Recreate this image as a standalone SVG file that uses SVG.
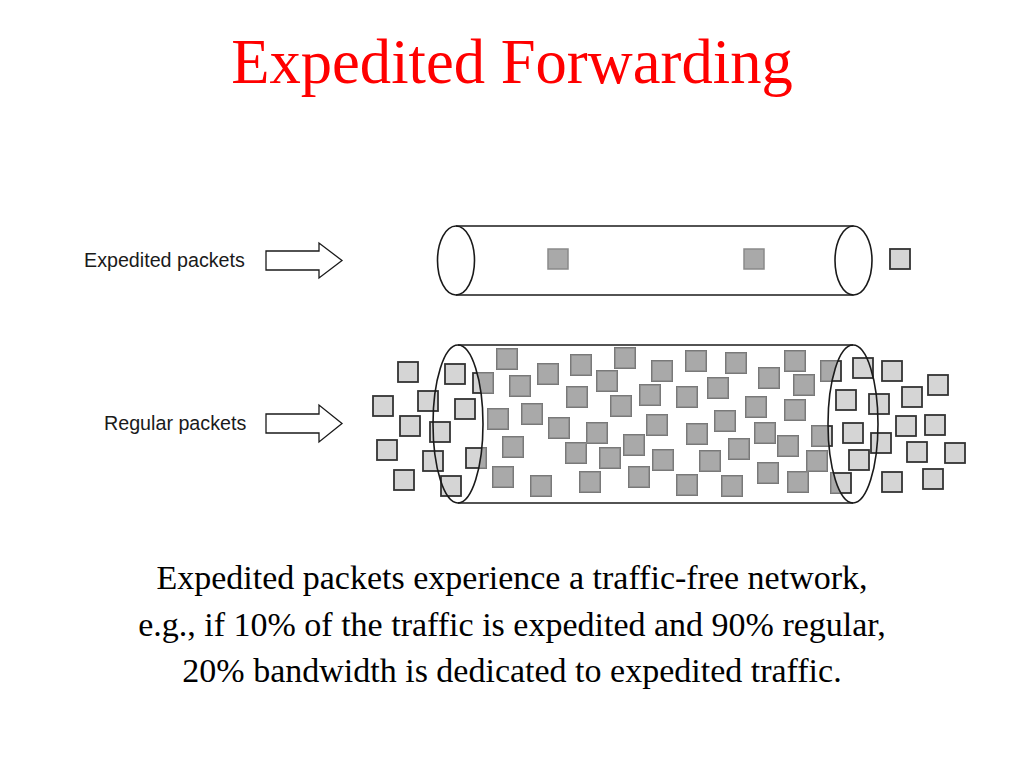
<svg xmlns="http://www.w3.org/2000/svg" xmlns:xlink="http://www.w3.org/1999/xlink" width="1024" height="768" viewBox="0 0 1024 768">
<style>
.title{font-family:"Liberation Serif","Times New Roman",serif;font-size:62.6px;fill:#ff0000;text-anchor:middle}
.body{font-family:"Liberation Serif","Times New Roman",serif;font-size:34px;fill:#000;text-anchor:middle}
.lbl{font-family:"Liberation Sans",Arial,sans-serif;font-size:19.7px;fill:#1a1a1a}
.tube{fill:none;stroke:#1a1a1a;stroke-width:1.6}
.arrow{fill:#fff;stroke:#1a1a1a;stroke-width:1.3}
.light{fill:#d5d5d5;stroke:#333;stroke-width:1.8}
.dark{fill:#a9a9a9;stroke:#8a8a8a;stroke-width:1.5}
</style>
<defs>
<clipPath id="body"><path d="M458,345 A25,79 0 0 1 458,503 L853,503 A25,79 0 0 1 853,345 Z"/></clipPath>
<g id="pk">
<rect x="398" y="362" width="20" height="20"/><rect x="445" y="364" width="20" height="20"/><rect x="418" y="391" width="20" height="20"/><rect x="373" y="396" width="20" height="20"/><rect x="455" y="399" width="20" height="20"/><rect x="400" y="416" width="20" height="20"/><rect x="430" y="422" width="20" height="20"/><rect x="377" y="440" width="20" height="20"/><rect x="423" y="451" width="20" height="20"/><rect x="466" y="448" width="20" height="20"/><rect x="394" y="470" width="20" height="20"/><rect x="441" y="476" width="20" height="20"/><rect x="473" y="373" width="20" height="20"/>
<rect x="497" y="349" width="20" height="20"/><rect x="538" y="364" width="20" height="20"/><rect x="510" y="376" width="20" height="20"/><rect x="571" y="355" width="20" height="20"/><rect x="567" y="387" width="20" height="20"/><rect x="488" y="409" width="20" height="20"/><rect x="522" y="404" width="20" height="20"/><rect x="549" y="418" width="20" height="20"/><rect x="503" y="437" width="20" height="20"/><rect x="566" y="443" width="20" height="20"/><rect x="493" y="467" width="20" height="20"/><rect x="531" y="476" width="20" height="20"/>
<rect x="615" y="348" width="20" height="20"/><rect x="597" y="371" width="20" height="20"/><rect x="652" y="361" width="20" height="20"/><rect x="686" y="351" width="20" height="20"/><rect x="726" y="353" width="20" height="20"/><rect x="785" y="351" width="20" height="20"/><rect x="611" y="396" width="20" height="20"/><rect x="640" y="385" width="20" height="20"/><rect x="677" y="387" width="20" height="20"/><rect x="708" y="378" width="20" height="20"/><rect x="759" y="368" width="20" height="20"/><rect x="746" y="397" width="20" height="20"/><rect x="785" y="400" width="20" height="20"/>
<rect x="587" y="423" width="20" height="20"/><rect x="647" y="415" width="20" height="20"/><rect x="687" y="424" width="20" height="20"/><rect x="715" y="411" width="20" height="20"/><rect x="755" y="423" width="20" height="20"/><rect x="600" y="448" width="20" height="20"/><rect x="624" y="435" width="20" height="20"/><rect x="653" y="450" width="20" height="20"/><rect x="700" y="451" width="20" height="20"/><rect x="729" y="439" width="20" height="20"/><rect x="778" y="436" width="20" height="20"/>
<rect x="580" y="472" width="20" height="20"/><rect x="629" y="467" width="20" height="20"/><rect x="677" y="475" width="20" height="20"/><rect x="722" y="476" width="20" height="20"/><rect x="758" y="463" width="20" height="20"/><rect x="788" y="472" width="20" height="20"/><rect x="794" y="375" width="20" height="20"/><rect x="812" y="426" width="20" height="20"/><rect x="807" y="451" width="20" height="20"/><rect x="821" y="361" width="20" height="20"/>
<rect x="831" y="473" width="20" height="20"/><rect x="853" y="358" width="20" height="20"/><rect x="882" y="361" width="20" height="20"/><rect x="928" y="375" width="20" height="20"/><rect x="836" y="390" width="20" height="20"/><rect x="869" y="394" width="20" height="20"/><rect x="902" y="387" width="20" height="20"/><rect x="896" y="416" width="20" height="20"/><rect x="925" y="415" width="20" height="20"/><rect x="843" y="423" width="20" height="20"/><rect x="871" y="433" width="20" height="20"/><rect x="907" y="442" width="20" height="20"/><rect x="945" y="443" width="20" height="20"/><rect x="849" y="450" width="20" height="20"/><rect x="882" y="472" width="20" height="20"/><rect x="923" y="469" width="20" height="20"/>
</g>
</defs>
<rect width="1024" height="768" fill="#fff"/>
<text class="title" x="512" y="83">Expedited Forwarding</text>

<g id="expedited-label">
<text class="lbl" x="84" y="267">Expedited packets</text>
<path class="arrow" d="M266,251 H319 V243 L342,260.5 L319,278 V270 H266 Z"/>
</g>
<g id="expedited-tube">
<rect class="dark" x="548" y="249" width="20" height="20"/>
<rect class="dark" x="744" y="249" width="20" height="20"/>
<rect class="light" x="890" y="249" width="20" height="20"/>
<line class="tube" x1="456" y1="226" x2="853.5" y2="226"/>
<line class="tube" x1="456" y1="295" x2="853.5" y2="295"/>
<ellipse class="tube" cx="456" cy="260.5" rx="18.5" ry="34.5"/>
<ellipse class="tube" cx="853.5" cy="260.5" rx="18.5" ry="34.5"/>
</g>

<g id="regular-label">
<text class="lbl" x="104" y="430">Regular packets</text>
<path class="arrow" d="M266,414 H319 V405 L342,423.5 L319,442 V433 H266 Z"/>
</g>
<g id="regular-tube">
<use xlink:href="#pk" class="light"/>
<use xlink:href="#pk" class="dark" clip-path="url(#body)"/>
<line class="tube" x1="458" y1="345" x2="853" y2="345"/>
<line class="tube" x1="458" y1="503" x2="853" y2="503"/>
<ellipse class="tube" cx="458" cy="424" rx="25" ry="79"/>
<ellipse class="tube" cx="853" cy="424" rx="25" ry="79"/>
</g>

<g id="caption">
<text class="body" x="512" y="589">Expedited packets experience a traffic-free network,</text>
<text class="body" x="512" y="636">e.g., if 10% of the traffic is expedited and 90% regular,</text>
<text class="body" x="512" y="682">20% bandwidth is dedicated to expedited traffic.</text>
</g>
</svg>
